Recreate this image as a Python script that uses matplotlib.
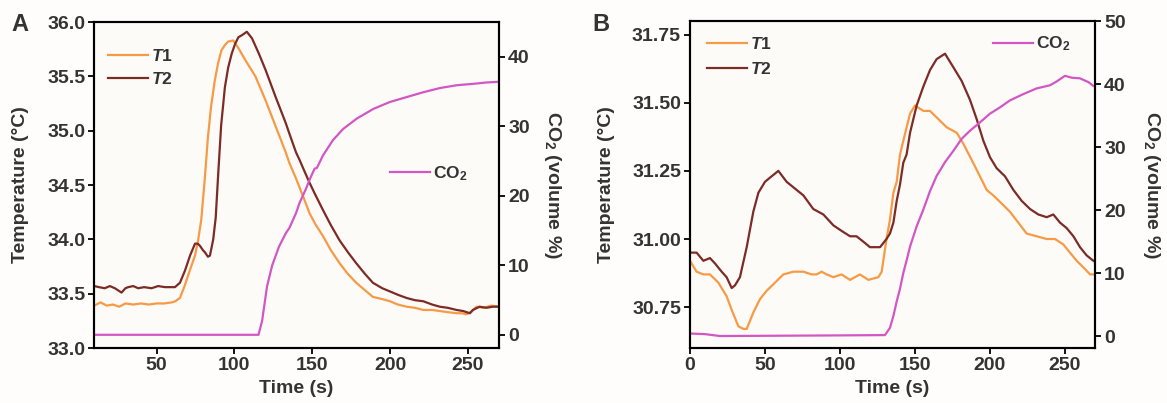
import matplotlib
matplotlib.use("Agg")
import matplotlib.pyplot as plt

plt.rcParams['font.family'] = ['Liberation Sans', 'DejaVu Sans']
plt.rcParams['font.weight'] = 'bold'
plt.rcParams['axes.labelweight'] = 'bold'
plt.rcParams['mathtext.fontset'] = 'custom'
plt.rcParams['mathtext.rm'] = 'Liberation Sans:bold'
plt.rcParams['mathtext.it'] = 'Liberation Sans:bold:italic'
plt.rcParams['mathtext.bf'] = 'Liberation Sans:bold'

TXT = '#333333'
C_T1 = '#f79a45'
C_T2 = '#7c2b27'
C_CO2 = '#d257c4'
BG = '#fdfbf7'

# ─────────────── Panel A ───────────────
a_t1_x = [10, 14, 18, 22, 26, 30, 35, 40, 45, 50, 55, 60, 62, 65, 68, 71.5, 74.7, 76.8,
          78.7, 81, 83, 85, 87.4, 89.5, 91.7, 94, 96, 99.3, 102.6, 107, 113.5, 120, 126.5,
          133, 135.4, 139.6, 144, 148.3, 152, 156.9, 162, 167.6, 173, 178.3, 184, 189,
          195, 200, 205, 210.7, 216, 221.4, 227, 232, 237, 242.8, 246, 249, 252, 255.6,
          260, 265, 270]
a_t1_y = [33.39, 33.42, 33.39, 33.40, 33.38, 33.41, 33.40, 33.41, 33.40, 33.41, 33.41,
          33.42, 33.43, 33.46, 33.57, 33.72, 33.85, 34.00, 34.18, 34.56, 34.94, 35.22,
          35.46, 35.62, 35.74, 35.79, 35.82, 35.83, 35.76, 35.65, 35.50, 35.28, 35.04,
          34.80, 34.70, 34.56, 34.40, 34.24, 34.14, 34.03, 33.90, 33.78, 33.68, 33.60,
          33.53, 33.47, 33.45, 33.43, 33.40, 33.38, 33.37, 33.35, 33.35, 33.34, 33.33,
          33.32, 33.32, 33.31, 33.33, 33.38, 33.37, 33.39, 33.38]

a_t2_x = [10, 13, 16.7, 20, 23.2, 27.5, 30, 31.8, 35, 38.2, 42, 46.8, 51, 55.4, 59, 61.8,
          65, 68.2, 71.5, 74.7, 76.5, 77.9, 79.8, 81.1, 83, 84.3, 86.4, 88, 89.6, 91.5,
          93.9, 96, 98.3, 100.5, 102.6, 105, 108, 111.3, 115.7, 120, 126.5, 133, 135.4,
          139.6, 141.9, 144, 148.3, 152, 156.9, 162, 167.6, 173, 178.3, 184, 189, 195,
          200, 205, 210.7, 216, 221.4, 227, 232, 237, 242.8, 247, 251.3, 253.2, 257.5,
          262, 266, 270]
a_t2_y = [33.57, 33.56, 33.55, 33.57, 33.55, 33.51, 33.55, 33.56, 33.57, 33.55, 33.56,
          33.55, 33.57, 33.56, 33.56, 33.56, 33.60, 33.71, 33.85, 33.96, 33.96, 33.94,
          33.90, 33.88, 33.84, 33.85, 34.00, 34.20, 34.60, 35.05, 35.40, 35.58, 35.71,
          35.80, 35.86, 35.88, 35.91, 35.85, 35.71, 35.56, 35.31, 35.07, 34.97, 34.80,
          34.73, 34.66, 34.52, 34.41, 34.27, 34.13, 33.99, 33.88, 33.78, 33.68, 33.60,
          33.55, 33.52, 33.49, 33.46, 33.44, 33.43, 33.40, 33.38, 33.37, 33.35, 33.34,
          33.32, 33.35, 33.38, 33.37, 33.38, 33.38]

a_co2_x = [10, 60, 115.5, 117.8, 121, 124.3, 128.7, 133, 135.4, 139.6, 141.9, 146, 148.3,
           151.5, 153, 156.9, 163.3, 169.8, 178.6, 189.3, 200, 210.7, 221.4, 232.1, 242.8,
           253.2, 262, 270]
a_co2_y = [0, 0, 0, 2.0, 7.0, 10.0, 12.7, 14.6, 15.4, 17.5, 19.0, 21.0, 22.3, 23.9, 24.0,
           25.8, 28.0, 29.6, 31.1, 32.5, 33.5, 34.2, 34.9, 35.5, 35.9, 36.1, 36.3, 36.4]

# ─────────────── Panel B ───────────────
b_t1_x = [0, 4.4, 8.9, 13.3, 18.9, 24.4, 27.8, 32.2, 35.6, 37.8, 42.2, 46.7, 51.1, 56.7,
          62.2, 68.9, 75.6, 81.1, 84.4, 87.8, 91.1, 95.6, 101, 106.7, 113.3, 118.9, 125.6,
          127.8, 131, 133.3, 135.6, 137.8, 140, 142.2, 144.4, 146.7, 150, 155.6, 160,
          165.6, 171.1, 177.8, 182.2, 187.8, 193.3, 197.8, 202.2, 207.8, 213.3, 218.9,
          224.4, 231.1, 237.8, 243.3, 248.9, 253.3, 257.8, 263.3, 266.7, 270]
b_t1_y = [30.92, 30.88, 30.87, 30.87, 30.84, 30.79, 30.74, 30.68, 30.67, 30.67, 30.73,
          30.78, 30.81, 30.84, 30.87, 30.88, 30.88, 30.87, 30.87, 30.88, 30.87, 30.86,
          30.87, 30.85, 30.87, 30.85, 30.86, 30.88, 31.00, 31.07, 31.17, 31.21, 31.31,
          31.36, 31.41, 31.46, 31.49, 31.47, 31.47, 31.44, 31.41, 31.39, 31.35, 31.29,
          31.23, 31.18, 31.16, 31.13, 31.10, 31.06, 31.02, 31.01, 31.00, 31.00, 30.98,
          30.95, 30.92, 30.89, 30.87, 30.87]

b_t2_x = [0, 4.4, 8.9, 13.3, 16.7, 21.1, 24.4, 27.8, 30, 33.3, 37.8, 42.2, 45.6, 50, 54.4,
          58.9, 64.4, 71.1, 75.6, 82.2, 88.9, 95.6, 101, 106.7, 111, 115.6, 120, 126.7,
          131, 133.3, 135.6, 137.8, 140, 142.2, 144.4, 146.7, 151.1, 155.6, 160, 164.4,
          170, 175.6, 181.1, 186.7, 191.1, 195.6, 200, 204.4, 210, 215.6, 221.1, 226.7,
          232.2, 237.8, 242.2, 246.7, 251.1, 255.6, 260, 264.4, 268.9]
b_t2_y = [30.95, 30.95, 30.92, 30.93, 30.91, 30.88, 30.86, 30.82, 30.83, 30.86, 30.97,
          31.10, 31.17, 31.21, 31.23, 31.25, 31.21, 31.18, 31.16, 31.11, 31.09, 31.05,
          31.03, 31.01, 31.01, 30.99, 30.97, 30.97, 31.00, 31.02, 31.06, 31.14, 31.20,
          31.28, 31.31, 31.39, 31.49, 31.56, 31.62, 31.66, 31.68, 31.63, 31.58, 31.51,
          31.44, 31.36, 31.30, 31.26, 31.23, 31.18, 31.14, 31.11, 31.09, 31.08, 31.09,
          31.06, 31.04, 31.01, 30.97, 30.94, 30.92]

b_co2_x = [0, 10, 20, 60, 100, 130, 133.3, 135.6, 137.8, 140, 142.2, 144.4, 146.7, 151.1,
           155.6, 160, 164.4, 170, 175.6, 181.1, 186.7, 193.3, 200, 206.7, 213.3, 222.2,
           231.1, 240, 244.4, 250, 254.4, 260, 265.6, 268.9]
b_co2_y = [0.4, 0.3, 0.0, 0.05, 0.1, 0.15, 1.3, 3.2, 5.5, 7.5, 10.0, 12.0, 14.2, 17.4,
           20.1, 23.0, 25.4, 27.6, 29.4, 31.3, 32.6, 33.9, 35.3, 36.3, 37.4, 38.4, 39.3,
           39.8, 40.4, 41.3, 41.0, 40.9, 40.3, 39.7]

a_xticks = [50, 100, 150, 200, 250]
a_yticks = [33.0, 33.5, 34.0, 34.5, 35.0, 35.5, 36.0]
a_rticks = [0, 10, 20, 30, 40]
b_xticks = [0, 50, 100, 150, 200, 250]
b_yticks = [30.75, 31.00, 31.25, 31.50, 31.75]
b_rticks = [0, 10, 20, 30, 40, 50]

W, H = 1167, 403
fig = plt.figure(figsize=(W / 100, H / 100), dpi=100)
fig.patch.set_facecolor('#fefdfb')


def style(ax):
    for s in ax.spines.values():
        s.set_linewidth(1.5)
    ax.tick_params(direction='out', length=4, width=1.3, labelsize=14,
                   colors='black', labelcolor=TXT, pad=2.5)


def panel(px, t1x, t1y, t2x, t2y, cx, cy, xlim, ylim, rlim, xt, yt, rt, yfmt,
          leg_t, sp_t, leg_c, ylab_x, rlab_x, letter):
    left, right, top, bottom = px
    ax = fig.add_axes([left / W, 1 - bottom / H, (right - left) / W, (bottom - top) / H])
    ax.set_facecolor(BG)
    l1, = ax.plot(t1x, t1y, color=C_T1, lw=1.6, label=r'$\mathit{T}$1')
    l2, = ax.plot(t2x, t2y, color=C_T2, lw=1.6, label=r'$\mathit{T}$2')
    ax.set_xlim(*xlim)
    ax.set_ylim(*ylim)
    ax.set_xticks(xt)
    ax.set_yticks(yt)
    ax.set_yticklabels([yfmt.format(v) for v in yt])
    ax.set_xlabel('Time (s)', fontsize=14, color=TXT)
    ax.xaxis.set_label_coords(0.5, -0.123)
    ax.xaxis.label.set_va('center')
    ax.set_ylabel('Temperature (°C)', fontsize=14, color=TXT)
    ax.yaxis.set_label_coords(ylab_x, 0.5)
    ax.yaxis.label.set_va('center')
    style(ax)

    ax2 = ax.twinx()
    l3, = ax2.plot(cx, cy, color=C_CO2, lw=1.6, label=r'CO$_2$')
    ax2.set_ylim(*rlim)
    ax2.set_yticks(rt)
    ax2.set_ylabel(r'CO$_2$ (volume %)', fontsize=14, color=TXT, rotation=270)
    ax2.yaxis.set_label_coords(rlab_x, 0.5)
    ax2.yaxis.label.set_va('center')
    style(ax2)

    leg = ax2.legend([l1, l2], [l1.get_label(), l2.get_label()], loc='upper left',
                     bbox_to_anchor=leg_t, frameon=False, fontsize=12.5,
                     handlelength=2.3, handletextpad=0.2, labelspacing=sp_t,
                     borderpad=0, borderaxespad=0, labelcolor=TXT)
    ax2.add_artist(leg)
    ax2.legend([l3], [l3.get_label()], loc='upper left', bbox_to_anchor=leg_c,
               frameon=False, fontsize=12.5, handlelength=2.3, handletextpad=0.2,
               borderpad=0, borderaxespad=0, labelcolor=TXT)
    fig.text(letter[0] / W, 1 - letter[1] / H, letter[2], fontsize=17,
             fontweight='bold', color=TXT, ha='left', va='top')
    return ax, ax2


panel((94.3, 499, 22, 348), a_t1_x, a_t1_y, a_t2_x, a_t2_y, a_co2_x, a_co2_y,
      (10, 270), (33.0, 36.0), (-1.9, 45), a_xticks, a_yticks, a_rticks, '{:.1f}',
      (0.034, 0.92), 0.38, (0.73, 0.565), -0.182, 1.132, (11, 13, 'A'))

panel((690, 1095, 21, 348), b_t1_x, b_t1_y, b_t2_x, b_t2_y, b_co2_x, b_co2_y,
      (0, 270), (30.60, 31.80), (-1.9, 50), b_xticks, b_yticks, b_rticks, '{:.2f}',
      (0.042, 0.955), 0.55, (0.748, 0.958), -0.206, 1.14, (592, 13, 'B'))

fig.savefig('out.png', dpi=100, facecolor=fig.get_facecolor())
